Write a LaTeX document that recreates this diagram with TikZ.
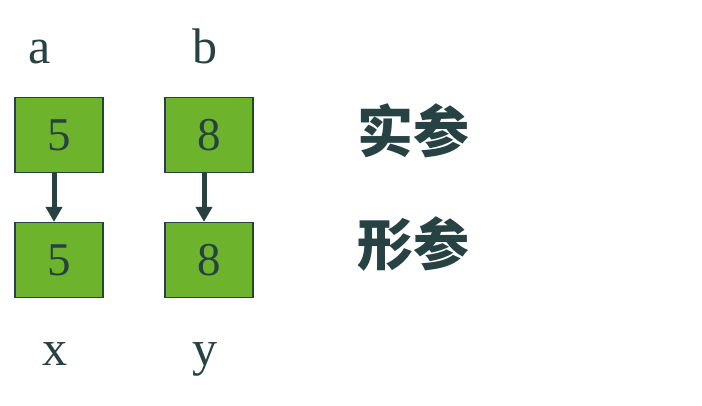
\documentclass[tikz,border=0pt]{standalone}
\usepackage{fontspec}
\setmainfont{Liberation Serif}
\newfontfamily\cjk{Noto Sans CJK SC}
\usetikzlibrary{arrows.meta}
\definecolor{cellfill}{HTML}{6DB32C}
\definecolor{darkline}{HTML}{264242}
\tikzset{
  cell/.style={
    rectangle,
    fill=cellfill,
    draw=darkline,
    line width=1.2pt,
    minimum width=88pt,
    minimum height=75pt,
    inner sep=0pt,
    text=darkline,
    font=\fontsize{47}{47}\selectfont
  },
  varname/.style={
    anchor=base,
    inner sep=0pt,
    text=darkline,
    font=\fontsize{50}{50}\selectfont
  },
  kind/.style={
    anchor=west,
    inner sep=0pt,
    text=darkline,
    font=\cjk\bfseries\fontsize{56}{56}\selectfont
  },
  flow/.style={
    -{Triangle[length=15pt,width=16pt]},
    line width=5pt,
    draw=darkline
  }
}
\begin{document}
\begin{tikzpicture}[x=1pt,y=-1pt]
\useasboundingbox[fill=white] (0,0) rectangle (702,406);

% Variable names.
\node[varname] (namea) at (40,64) {a};
\node[varname] (nameb) at (205,64) {b};
\node[varname] (namex) at (55,365) {x};
\node[varname] (namey) at (205,365) {y};

% Cells.
\node[cell] (cella) at (59,135) {5};
\node[cell] (cellb) at (209,135) {8};
\node[cell] (cellx) at (59,260) {5};
\node[cell] (celly) at (209,260) {8};

% Passing values.
\draw[flow] ([xshift=-5pt]cella.south) -- ([xshift=-5pt]cellx.north);
\draw[flow] ([xshift=-5pt]cellb.south) -- ([xshift=-5pt]celly.north);

% Kinds.
\node[kind] (actual) at (357,131) {实参};
\node[kind] (formal) at (357,244) {形参};

\end{tikzpicture}
\end{document}
